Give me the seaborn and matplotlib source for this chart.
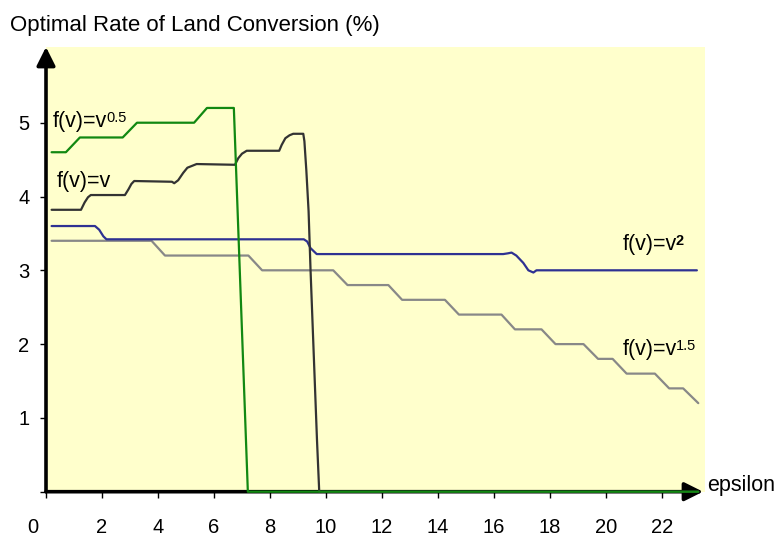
import numpy as np
import pandas as pd
import seaborn as sns
import matplotlib.pyplot as plt
import matplotlib.transforms as mtransforms

sns.set_style("white")
plt.rcParams['font.family'] = ['Liberation Sans', 'DejaVu Sans']
plt.rcParams['text.color'] = 'black'
plt.rcParams['xtick.color'] = 'black'
plt.rcParams['ytick.color'] = 'black'

# f(v)=v^0.5
x_sqrt = [0.2, 0.71, 1.21, 2.74, 3.25, 5.29, 5.75, 6.71, 7.21, 23.3]
y_sqrt = [4.6, 4.6, 4.8, 4.8, 5.0, 5.0, 5.2, 5.2, 0.0, 0.0]

# f(v)=v
x_lin = [0.2, 1.25, 1.38, 1.5, 1.6, 2.82, 2.95, 3.05, 3.15, 4.5, 4.58, 4.72, 4.9,
         5.05, 5.38, 6.75, 6.87, 7.0, 7.17, 8.33, 8.42, 8.55, 8.7, 8.83, 9.19,
         9.23, 9.3, 9.38, 9.45, 9.52, 9.6, 9.68, 9.76, 23.3]
y_lin = [3.82, 3.82, 3.92, 3.99, 4.02, 4.02, 4.1, 4.17, 4.21, 4.2, 4.18, 4.22, 4.32,
         4.39, 4.44, 4.43, 4.52, 4.58, 4.62, 4.62, 4.7, 4.79, 4.83, 4.85, 4.85,
         4.75, 4.35, 3.8, 3.0, 2.3, 1.5, 0.7, 0.0, 0.0]

# f(v)=v^2
x_sq = [0.2, 1.75, 1.9, 2.05, 2.16, 9.21, 9.33, 9.45, 9.67, 16.33, 16.5, 16.63,
        16.8, 17.05, 17.23, 17.41, 17.52, 23.25]
y_sq = [3.6, 3.6, 3.55, 3.46, 3.42, 3.42, 3.39, 3.3, 3.22, 3.22, 3.23, 3.24,
        3.2, 3.1, 3.0, 2.97, 3.0, 3.0]

# f(v)=v^1.5
x_p15 = [0.2, 3.77, 4.25, 7.23, 7.72, 10.26, 10.77, 12.23, 12.72, 14.25, 14.75,
         16.27, 16.75, 17.7, 18.2, 19.2, 19.72, 20.24, 20.74, 21.75, 22.26, 22.76, 23.3]
y_p15 = [3.4, 3.4, 3.2, 3.2, 3.0, 3.0, 2.8, 2.8, 2.6, 2.6, 2.4,
         2.4, 2.2, 2.2, 2.0, 2.0, 1.8, 1.8, 1.6, 1.6, 1.4, 1.4, 1.2]

order = ['v^1.5', 'v^2', 'v', 'v^0.5']
colors = {'v^1.5': '#888888', 'v^2': '#2E3192', 'v': '#333333', 'v^0.5': '#118811'}

df = pd.concat([
    pd.DataFrame({'epsilon': x_p15, 'rate': y_p15, 'curve': 'v^1.5'}),
    pd.DataFrame({'epsilon': x_sq, 'rate': y_sq, 'curve': 'v^2'}),
    pd.DataFrame({'epsilon': x_lin, 'rate': y_lin, 'curve': 'v'}),
    pd.DataFrame({'epsilon': x_sqrt, 'rate': y_sqrt, 'curve': 'v^0.5'}),
], ignore_index=True)

fig = plt.figure(figsize=(7.8, 5.36), dpi=100)
ax = fig.add_axes([46 / 780, 44.3 / 536, 659 / 780, 444.7 / 536])
ax.set_facecolor('#FFFFCC')

sns.lineplot(data=df, x='epsilon', y='rate', hue='curve', hue_order=order,
             palette=colors, estimator=None, sort=False, legend=False,
             linewidth=1.6, clip_on=False, zorder=4, ax=ax)

ax.set_xlim(0, 23.54)
ax.set_ylim(0, 6.026)
ax.set_xlabel('')
ax.set_ylabel('')
for s in ax.spines.values():
    s.set_visible(False)

ax.set_xticks(range(0, 23, 2))
ax.set_yticks(range(0, 6))
ax.set_yticklabels(['', '1', '2', '3', '4', '5'])
ax.tick_params(axis='x', bottom=True, direction='out', length=4, width=1,
               color='black', labelcolor='black', pad=15, labelsize=14.5)
ax.tick_params(axis='y', left=True, direction='out', length=4.3, width=1,
               color='black', labelcolor='black', pad=7.5, labelsize=14.5)
# the "0" label sits left of its tick in the original
lab0 = ax.get_xticklabels()[0]
lab0.set_transform(lab0.get_transform() +
                   mtransforms.ScaledTranslation(-0.13, 0, fig.dpi_scale_trans))

# axes with arrow heads
arrow = dict(arrowstyle='-|>', lw=2.6, color='black', shrinkA=0, shrinkB=0,
             mutation_scale=28)
ax.annotate('', xy=(0, 1), xytext=(0, 0), xycoords='axes fraction',
            arrowprops=arrow, zorder=3, annotation_clip=False)
ax.annotate('', xy=(0.997, 0), xytext=(0, 0), xycoords='axes fraction',
            arrowprops=arrow, zorder=3, annotation_clip=False)

# curve labels
labels = [(0.25, 4.94, '0.5', 'normal'), (0.38, 4.13, '', 'normal'),
          (20.6, 3.27, '2', 'bold'), (20.6, 1.85, '1.5', 'normal')]
for lx, ly, sup, weight in labels:
    t = ax.text(lx, ly, 'f(v)=v', fontsize=15.5, va='baseline', ha='left', zorder=5)
    if sup:
        ax.annotate(sup, xy=(1, 1), xycoords=t, xytext=(-0.8, 0),
                    textcoords='offset points', va='top', ha='left',
                    fontsize=10.5, fontweight=weight, zorder=5)

fig.text(707 / 780, 1 - 491 / 536, 'epsilon', fontsize=15.5, va='baseline', ha='left')
fig.text(10 / 780, 1 - 25 / 536, 'Optimal Rate of Land Conversion (%)',
         fontsize=16, va='center', ha='left')

fig.savefig('out.png', dpi=100)
